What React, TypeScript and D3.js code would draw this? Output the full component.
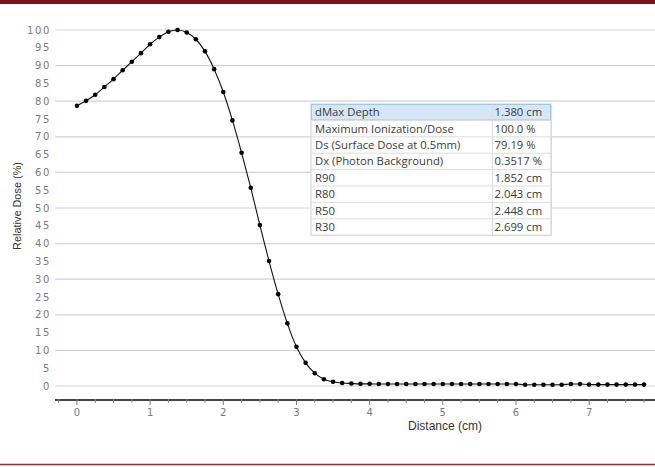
import React from "react";
import * as d3 from "d3";

const distances = [
  0, 0.125, 0.25, 0.375, 0.5, 0.625, 0.75, 0.875, 1, 1.125, 1.25, 1.375, 1.5, 1.625, 1.75, 1.875,
  2, 2.125, 2.25, 2.375, 2.5, 2.625, 2.75, 2.875, 3, 3.125, 3.25, 3.375, 3.5, 3.625, 3.75, 3.875,
  4, 4.125, 4.25, 4.375, 4.5, 4.625, 4.75, 4.875, 5, 5.125, 5.25, 5.375, 5.5, 5.625, 5.75, 5.875,
  6, 6.125, 6.25, 6.375, 6.5, 6.625, 6.75, 6.875, 7, 7.125, 7.25, 7.375, 7.5, 7.625, 7.75,
];
const doses = [
  78.7, 80.1, 81.8, 84.0, 86.2, 88.7, 91.1, 93.5, 96.0, 98.0, 99.5, 100, 99.3, 97.4, 94.0, 89.0,
  82.6, 74.6, 65.5, 55.7, 45.2, 35.1, 25.8, 17.6, 11.0, 6.5, 3.6, 1.9, 1.2, 0.85, 0.7, 0.6,
  0.6, 0.55, 0.55, 0.55, 0.55, 0.55, 0.55, 0.55, 0.55, 0.55, 0.55, 0.55, 0.55, 0.55, 0.55, 0.55,
  0.55, 0.35, 0.35, 0.35, 0.35, 0.35, 0.55, 0.55, 0.4, 0.4, 0.4, 0.4, 0.4, 0.4, 0.4,
];
const yTicks = [0, 5, 10, 15, 20, 25, 30, 35, 40, 45, 50, 55, 60, 65, 70, 75, 80, 85, 90, 95, 100];
const yGrid = [0, 10, 20, 30, 40, 50, 60, 70, 80, 90, 100];
const xTicks = [0, 1, 2, 3, 4, 5, 6, 7];
const tableLabels = [
  "dMax Depth",
  "Maximum Ionization/Dose",
  "Ds (Surface Dose at 0.5mm)",
  "Dx (Photon Background)",
  "R90",
  "R80",
  "R50",
  "R30",
];
const tableValues = ["1.380 cm", "100.0 %", "79.19 %", "0.3517 %", "1.852 cm", "2.043 cm", "2.448 cm", "2.699 cm"];

export default function App() {
  const W = 655;
  const H = 467;
  const x = d3.scaleLinear().domain([-0.3, 7.9]).range([55, 655]);
  const y = d3.scaleLinear().domain([0, 100]).range([386, 30]);
  const pts = distances.map((d, i) => [d, doses[i]] as [number, number]);
  const line = d3
    .line<[number, number]>()
    .x((d) => x(d[0]))
    .y((d) => y(d[1]))
    .curve(d3.curveMonotoneX);
  const minorTicks = d3.range(-0.25, 7.9, 0.25).filter((t) => Math.abs(t - Math.round(t)) > 1e-6);
  const axisY = 400;

  const tX = 311;
  const tY = 104;
  const tW = 240;
  const rowH = 16.4;
  const colX = 492.5;

  return (
    <svg
      width={W}
      height={H}
      style={{ position: "absolute", left: 0, top: 0, background: "#fff" }}
    >
      <rect x={0} y={0} width={W} height={H} fill="#fff" />
      <rect x={0} y={0} width={W} height={4} fill="#7b1519" />
      <line x1={0} x2={W} y1={464.5} y2={464.5} stroke="#9e2a30" strokeWidth={1.5} />

      {yGrid.map((t) => (
        <line key={"g" + t} x1={55} x2={W} y1={y(t)} y2={y(t)} stroke="#d2d2d2" strokeWidth={1.2} />
      ))}

      {yTicks.map((t) => (
        <text
          key={"yt" + t}
          x={51}
          y={y(t)}
          dy="0.36em"
          textAnchor="end"
          fontFamily="DejaVu Sans"
          fontSize={10}
          letterSpacing={1.6}
          fill="#7a7a7a"
        >
          {t}
        </text>
      ))}

      <text
        transform={`translate(21,206) rotate(-90)`}
        textAnchor="middle"
        fontFamily="Liberation Sans"
        fontSize={11}
        fill="#333"
        textLength={88}
        lengthAdjust="spacingAndGlyphs"
      >
        Relative Dose (%)
      </text>

      <line x1={55} x2={W} y1={axisY} y2={axisY} stroke="#444" strokeWidth={1.8} />
      {minorTicks.map((t) => (
        <line key={"mt" + t} x1={x(t)} x2={x(t)} y1={axisY - 1} y2={axisY + 3} stroke="#888" strokeWidth={1} />
      ))}
      {xTicks.map((t) => (
        <g key={"xt" + t}>
          <line x1={x(t)} x2={x(t)} y1={axisY - 1} y2={axisY + 5} stroke="#777" strokeWidth={1} />
          <text
            x={x(t)}
            y={415.5}
            textAnchor="middle"
            fontFamily="DejaVu Sans"
            fontSize={10}
            fill="#7a7a7a"
          >
            {t}
          </text>
        </g>
      ))}
      <text x={445} y={430} textAnchor="middle" fontFamily="Liberation Sans" fontSize={12} fill="#333">
        Distance (cm)
      </text>

      <path d={line(pts) || ""} fill="none" stroke="#111" strokeWidth={1.1} />
      {pts.map((p, i) => (
        <circle key={"p" + i} cx={x(p[0])} cy={y(p[1])} r={2.3} fill="#000" />
      ))}

      <g>
        <rect x={tX + 1} y={tY + 1} width={tW} height={rowH * 8} fill="#e6e6e6" />
        <rect x={tX} y={tY} width={tW} height={rowH * 8} fill="#fff" stroke="#cfcfcf" strokeWidth={1} />
        {tableLabels.map((lab, i) => (
          <g key={"r" + i}>
            {i === 0 ? (
              <rect
                x={tX + 0.5}
                y={tY + 0.5}
                width={tW - 1}
                height={rowH - 1}
                fill="#d5e7f6"
                stroke="#9dc8ea"
                strokeWidth={1}
              />
            ) : (
              <line x1={tX} x2={tX + tW} y1={tY + i * rowH} y2={tY + i * rowH} stroke="#dcdcdc" strokeWidth={1} />
            )}
            <text
              x={tX + 4}
              y={tY + i * rowH + rowH / 2}
              dy="0.36em"
              fontFamily="Open Sans"
              fontSize={11.3}
              fill="#3a3a3a"
            >
              {lab}
            </text>
            <text
              x={colX + 2}
              y={tY + i * rowH + rowH / 2}
              dy="0.36em"
              fontFamily="Open Sans"
              fontSize={11.3}
              fill="#3a3a3a"
            >
              {tableValues[i]}
            </text>
          </g>
        ))}
        <line x1={colX} x2={colX} y1={tY} y2={tY + rowH * 8} stroke="#dcdcdc" strokeWidth={1} />
      </g>
    </svg>
  );
}
